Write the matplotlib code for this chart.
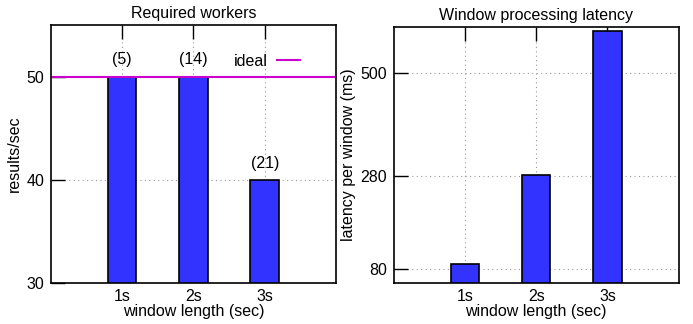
import matplotlib
matplotlib.use("Agg")
import matplotlib.pyplot as plt

plt.rcParams['font.family'] = ['Liberation Sans', 'DejaVu Sans']
plt.rcParams['font.size'] = 11.5

windows = ['1s', '2s', '3s']
throughput = [50, 50, 40]
workers = [5, 14, 21]
ideal_rate = 50
latency = [90, 282, 590]

BAR = '#3333ff'
IDEAL = '#cc00cc'

fig = plt.figure(figsize=(6.93, 3.24), dpi=100)
ax1 = fig.add_axes([0.0736, 0.1265, 0.4112, 0.7963])
ax2 = fig.add_axes([0.568, 0.1265, 0.4114, 0.7911])

x = [1, 2, 3]


def style(ax):
    ax.set_xlim(0, 4)
    ax.set_xticks(x)
    ax.set_xticklabels(windows)
    ax.tick_params(axis='x', direction='in', length=10, width=1, top=True,
                   bottom=False, pad=4)
    ax.tick_params(axis='y', direction='in', length=10, width=1, right=False,
                   pad=5)
    ax.grid(True, linestyle=(0, (1, 3)), color='#999999', linewidth=0.8)
    ax.set_axisbelow(True)
    for s in ax.spines.values():
        s.set_linewidth(1.2)
    ax.set_xlabel('window length (sec)', labelpad=0)


# throughput with number of workers on top
ax1.bar(x, throughput, width=0.4, color=BAR, edgecolor='black', linewidth=1.2)
ax1.axhline(ideal_rate, color=IDEAL, linewidth=1.5, label='ideal')
for xi, v, w in zip(x, throughput, workers):
    ax1.text(xi, v + 0.9, f'({w})', ha='center', va='bottom')
ax1.set_ylim(30, 55)
ax1.set_yticks([30, 40, 50])
style(ax1)
ax1.set_ylabel('results/sec', labelpad=3)
ax1.set_title('Required workers', fontsize=11.5, pad=5)
ax1.legend(loc='center right', frameon=False, markerfirst=False,
           handlelength=1.4, handletextpad=0.6,
           bbox_to_anchor=(0.895, 0.86), borderaxespad=0)

# latency per window
ax2.bar(x, latency, width=0.4, color=BAR, edgecolor='black', linewidth=1.2)
ax2.set_ylim(50, 600)
ax2.set_yticks([80, 280, 500])
style(ax2)
ax2.set_ylabel('latency per window (ms)', labelpad=3)
ax2.set_title('Window processing latency', fontsize=11.5, pad=5)

fig.savefig('out.png', dpi=100)
